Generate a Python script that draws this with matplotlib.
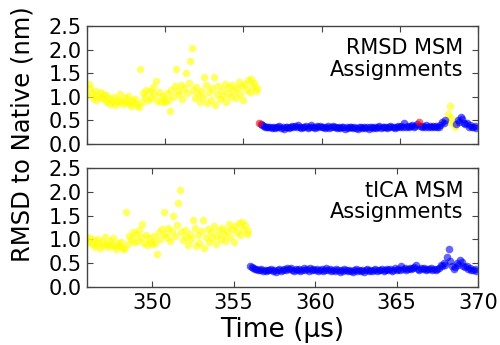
import matplotlib
matplotlib.use("Agg")
import matplotlib.pyplot as plt
import numpy as np

# --- 1. Dados: RMSD ao nativo ao longo da trajetória (passo de 0.1 us) ---
t_start = 345.0
t_step = 0.1

# trecho desenovelado (345.0 - 355.9 us)
rmsd_unfolded = [
    1.04, 1.27, 1.18, 1.08, 0.98, 1.12, 0.93, 1.02, 1.10, 0.97,
    1.05, 0.95, 1.03, 0.90, 0.98, 0.85, 0.92, 1.00, 0.82, 0.94,
    0.88, 1.06, 0.91, 0.84, 0.97, 0.89, 1.02, 0.86, 0.80, 0.93,
    0.87, 0.95, 0.82, 0.79, 1.58, 0.90, 1.08, 1.00, 1.15, 0.94,
    1.12, 0.97, 1.20, 1.05, 1.33, 0.92, 1.10, 0.88, 1.02, 0.95,
    0.90, 1.08, 0.93, 0.70, 1.15, 1.00, 1.22, 1.58, 1.12, 1.05,
    1.25, 0.96, 1.18, 1.50, 1.08, 1.30, 1.76, 2.04, 1.15, 0.98,
    1.20, 1.05, 0.88, 1.12, 1.00, 1.41, 1.25, 0.86, 1.10, 0.93,
    1.18, 1.41, 0.82, 1.05, 1.22, 0.95, 1.15, 1.02, 1.28, 0.90,
    1.08, 1.20, 1.00, 1.25, 1.12, 0.97, 1.18, 1.32, 1.05, 1.22,
    0.94, 1.28, 1.15, 1.35, 1.10, 1.37, 1.22, 1.30, 1.12, 1.18,
]

# trecho enovelado (356.0 - 369.9 us)
rmsd_folded = [
    0.45, 0.42, 0.40, 0.38, 0.37, 0.36, 0.35, 0.37, 0.34, 0.36,
    0.33, 0.36, 0.35, 0.38, 0.34, 0.36, 0.32, 0.35, 0.37, 0.34,
    0.36, 0.38, 0.35, 0.39, 0.37, 0.41, 0.36, 0.34, 0.37, 0.35,
    0.38, 0.33, 0.36, 0.40, 0.35, 0.37, 0.34, 0.39, 0.36, 0.38,
    0.35, 0.37, 0.33, 0.36, 0.38, 0.34, 0.36, 0.39, 0.35, 0.37,
    0.34, 0.36, 0.33, 0.37, 0.35, 0.32, 0.36, 0.34, 0.37, 0.35,
    0.33, 0.36, 0.34, 0.32, 0.35, 0.37, 0.33, 0.35, 0.34, 0.36,
    0.32, 0.35, 0.37, 0.34, 0.36, 0.33, 0.35, 0.38, 0.34, 0.36,
    0.35, 0.37, 0.34, 0.36, 0.38, 0.35, 0.37, 0.34, 0.36, 0.39,
    0.36, 0.38, 0.35, 0.45, 0.37, 0.39, 0.36, 0.38, 0.40, 0.37,
    0.39, 0.42, 0.47, 0.38, 0.36, 0.39, 0.37, 0.40, 0.36, 0.38,
    0.37, 0.39, 0.36, 0.38, 0.35, 0.37, 0.40, 0.47, 0.44, 0.50,
    0.47, 0.64, 0.80, 0.55, 0.45, 0.37, 0.42, 0.50, 0.47, 0.57,
    0.52, 0.45, 0.42, 0.45, 0.37, 0.40, 0.36, 0.35, 0.38, 0.34,
]

# atribuições de estado (cor, número de quadros consecutivos)
rmsd_msm_runs = [("yellow", 110), ("red", 1), ("blue", 101), ("red", 1),
                 ("blue", 17), ("yellow", 6), ("blue", 14)]
tica_msm_runs = [("yellow", 110), ("blue", 140)]

panel_labels = ["RMSD MSM\nAssignments", "tICA MSM\nAssignments"]
panel_xlims = [(345, 370), (346, 370)]

rmsd = np.array(rmsd_unfolded + rmsd_folded)
time = t_start + t_step * np.arange(len(rmsd))

# --- 2. Figura ---
fig = plt.figure(figsize=(5.0, 3.45), dpi=100)
ax1 = fig.add_axes([0.174, 0.5826, 0.782, 0.342])
ax2 = fig.add_axes([0.174, 0.168, 0.782, 0.345])

for ax, runs, label, xlim in zip([ax1, ax2], [rmsd_msm_runs, tica_msm_runs],
                                 panel_labels, panel_xlims):
    colors = np.repeat([c for c, n in runs], [n for c, n in runs])
    for c in ["yellow", "red", "blue"]:
        m = colors == c
        ax.scatter(time[m], rmsd[m], s=30, color=c, alpha=0.6, linewidths=0,
                   zorder=3 if c == "red" else 2)
    ax.set_xlim(*xlim)
    ax.set_ylim(0, 2.5)
    ax.set_yticks([0.0, 0.5, 1.0, 1.5, 2.0, 2.5])
    ax.set_yticklabels(["0.0", "0.5", "1.0", "1.5", "2.0", "2.5"])
    ax.tick_params(direction="in", top=True, right=True, labelsize=15,
                   length=4, width=0.8, color="#444444", pad=4)
    for sp in ax.spines.values():
        sp.set_color("#444444")
        sp.set_linewidth(1.0)
    ax.text(0.962, 0.895, label, transform=ax.transAxes, ha="right", va="top",
            fontsize=15, linespacing=1.1)

ax1.set_xticks([345, 350, 355, 360, 365, 370])
ax1.set_xticklabels([])
ax2.set_xticks([350, 355, 360, 365, 370])
ax2.set_xlabel("Time (\u03bcs)", fontsize=19, labelpad=3)

fig.text(0.045, 0.612, "RMSD to Native (nm)", rotation=90, ha="center",
         va="center", fontsize=17.5)

fig.savefig("out.png", dpi=100, facecolor="white")
